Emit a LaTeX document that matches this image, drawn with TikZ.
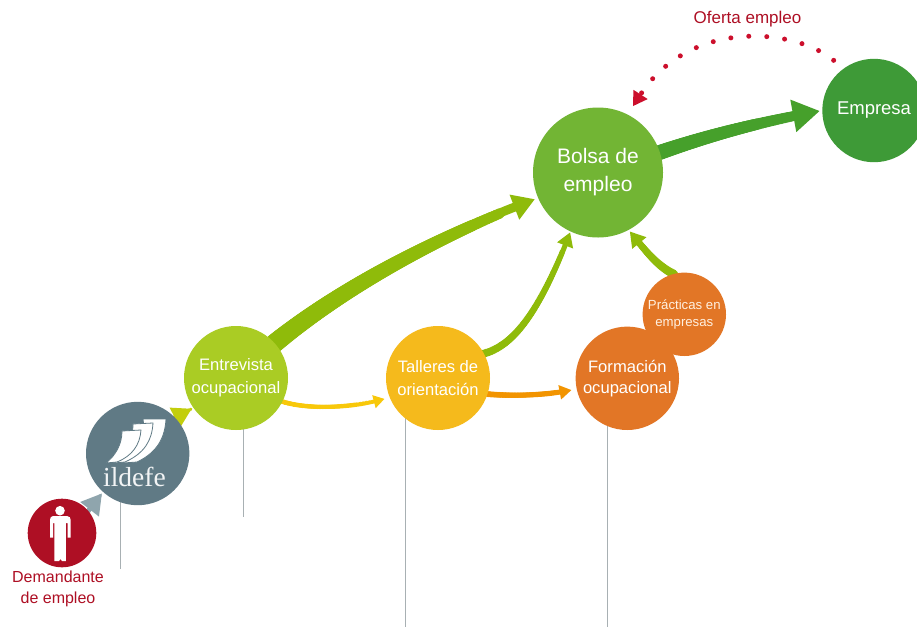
\documentclass[tikz,border=0pt]{standalone}
\usepackage{fontspec}
\setmainfont{Liberation Sans}
\newfontfamily\logofont{Liberation Serif}
\usetikzlibrary{arrows.meta,decorations.markings,backgrounds}
\definecolor{cred}{HTML}{AE0F24}
\definecolor{cslate}{HTML}{607A85}
\definecolor{clime}{HTML}{AACC24}
\definecolor{camber}{HTML}{F5BA1C}
\definecolor{corange}{HTML}{E27626}
\definecolor{cgreen}{HTML}{72B534}
\definecolor{cdark}{HTML}{3E9A37}
\definecolor{arrgreen}{HTML}{8FBB0A}
\definecolor{arrdark}{HTML}{46A02B}
\definecolor{arrgrey}{HTML}{8FA5AD}
\definecolor{arrolive}{HTML}{C3CE0C}
\definecolor{arryellow}{HTML}{F8C80A}
\definecolor{arrorange}{HTML}{F29400}
\definecolor{dotred}{HTML}{CC0F2C}
\definecolor{stem}{HTML}{A8B0B3}
\tikzset{
  disc/.style n args={4}{circle,fill=#1,minimum size=#2*2pt,inner sep=0pt,outer sep=0pt,text=white,align=center,font=\fontsize{#3}{#4}\selectfont},
  stemline/.style={draw=stem,line width=1pt},
  taper/.style n args={5}{draw=#3,line width=#2pt,line cap=butt,shorten >=#4pt,
    -{Triangle[length=#5pt,width=#5pt*1.15]},
    postaction={decorate,decoration={markings,
      mark=between positions 0 and 0.86 step 1.5pt with {
        \pgfmathsetmacro\tapr{0.5*(#1+(#2-#1)*\pgfkeysvalueof{/pgf/decoration/mark info/distance from start}/\pgfdecoratedpathlength)}
        \fill[#3] (0,0) circle (\tapr pt);}}}},
  redlabel/.style={text=cred,align=center}
}
\begin{document}
\begin{tikzpicture}[x=1pt,y=-1pt]
\useasboundingbox (0,0) rectangle (917,627);
\clip (0,0) rectangle (917,627);
% nodes
\node[disc={cred}{34.3}{12}{15}] (dem) at (62,533) {};
\node[disc={cslate}{51.7}{12}{15}] (ild) at (137.7,453.5) {};
\node[disc={clime}{52}{16.6}{23}] (ent) at (236,378) {Entrevista\\ocupacional};
\node[disc={camber}{52}{16.6}{23}] (tal) at (438,378) {Talleres de\\orientación};
\node[disc={corange}{41.7}{13.2}{17},text=white!88!orange] (pra) at (684.3,314.3) {Prácticas en\\empresas};
\node[disc={corange}{51.7}{16.6}{21}] (for) at (627.3,378.3) {Formación\\ocupacional};
\node[disc={cgreen}{65}{21}{28}] (bol) at (598,172.5) {Bolsa de\\empleo};
\node[disc={cdark}{51.7}{18.5}{22}] (emp) at (874,110.5) {Empresa};
\node[redlabel,font=\fontsize{16}{21}\selectfont] (demlab) at (58,589) {Demandante\\de empleo};
\node[redlabel,font=\fontsize{17}{20}\selectfont] (ofe) at (747.5,19) {Oferta empleo};
% person icon
\fill[white] (60,510.7) circle (4.8);
\fill[white] (53,516) -- (67,516) .. controls (69.5,516) and (70.7,518) .. (70.7,520) -- (70.7,537.5) -- (67.5,537.5) -- (67.5,523) -- (65.8,523) -- (65.8,561) -- (62,561) -- (60.5,559) -- (59,561) -- (54.3,561) -- (54.3,523) -- (53,523) -- (53,537.5) -- (50,537.5) -- (50,520) .. controls (50,518) and (51,516) .. (53,516) -- cycle;
% logo
\begin{scope}[draw=cslate,line width=.8pt,fill=white]
\filldraw (143,419) -- (166,419) .. controls (165,437) and (158,452) .. (137,462) -- (123,463) .. controls (135,452) and (146,437) .. cycle;
\filldraw (133,424) -- (153,423) .. controls (152,440) and (145,453) .. (125,462) -- (114,463) .. controls (125,452) and (133,440) .. cycle;
\filldraw (122,431) -- (141,430) .. controls (140,445) and (132,456) .. (117,462) -- (106,463) .. controls (116,455) and (122,444) .. cycle;
\end{scope}
\node[text=white!92!cslate,font=\logofont\fontsize{27.5}{27.5}\selectfont,inner sep=0pt] (logo) at (134.5,477) {ildefe};
% free ends of the stems
\coordinate (s1) at (120.3,569);
\coordinate (s2) at (243,517);
\coordinate (s3) at (405,627);
\coordinate (s4) at (607,627);
\begin{scope}[on background layer]
\fill[white] (0,0) rectangle (917,627);
\draw[stemline] (s1 |- ild) -- (s1);
\draw[stemline] (s2 |- ent) -- (s2);
\draw[stemline] (s3 |- tal) -- (s3);
\draw[stemline] (s4 |- for) -- (s4);
% connectors
\draw[taper={5}{3}{arrgrey}{2}{20}] (dem.40) -- (ild.228);
\draw[taper={5}{3}{arrolive}{2}{19}] (ild.44) -- (ent.215);
\draw[taper={5}{3.5}{arryellow}{5.4}{11}] (ent.-27) .. controls (310,410) and (350,408) .. (tal.202);
\draw[taper={6}{4.5}{arrorange}{5.3}{12}] (tal.-18) .. controls (510,396) and (540,396) .. (for.192);
\draw[taper={19}{9}{arrgreen}{3.5}{22}] (ent.42) .. controls (340,290) and (430,240) .. (bol.203);
\draw[taper={8}{5}{arrgreen}{1}{14}] (tal.28) .. controls (515,345) and (540,310) .. (bol.245);
\draw[taper={9}{6}{arrgreen}{2}{15}] (pra.105) .. controls (656,265) and (645,250) .. (bol.298);
\draw[taper={15}{9}{arrdark}{2.5}{27}] (bol.18) .. controls (710,135) and (760,122) .. (emp.180);
\end{scope}
\draw[draw=dotred,line width=5pt,line cap=round,dash pattern=on 0pt off 18pt,shorten <=13pt,shorten >=10pt,
  -{Triangle[length=14pt,width=16pt]}] (emp.126) .. controls (795,28) and (690,18) .. (bol.63);
\end{tikzpicture}
\end{document}
